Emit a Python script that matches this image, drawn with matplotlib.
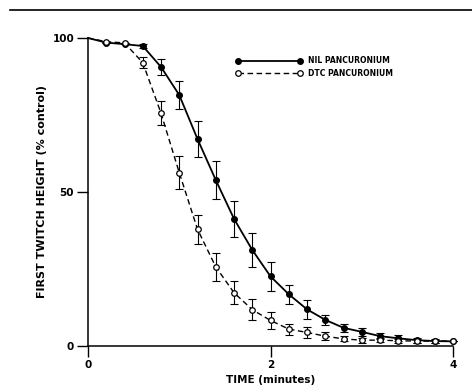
import numpy as np
import matplotlib
matplotlib.use("Agg")
import matplotlib.pyplot as plt
from matplotlib.lines import Line2D

plt.rcParams['font.family'] = ['Liberation Sans Narrow', 'DejaVu Sans']

# time (minutes) and first twitch height (% control)
time = [0.0, 0.2, 0.4, 0.6, 0.8, 1.0, 1.2, 1.4, 1.6, 1.8, 2.0,
        2.2, 2.4, 2.6, 2.8, 3.0, 3.2, 3.4, 3.6, 3.8, 4.0]
nil = [100, 98.5, 98.0, 97.4, 90.6, 81.5, 67.2, 53.9, 41.3, 31.2, 22.6,
       16.8, 11.9, 8.5, 5.9, 4.6, 3.2, 2.5, 1.9, 1.6, 1.5]
nil_err = [0, 0, 0, 0.5, 2.7, 4.6, 5.7, 6.2, 5.8, 5.4, 4.6,
           3.1, 3.1, 1.6, 1.3, 1.2, 1.0, 1.0, 0.8, 0.6, 0]
dtc = [100, 98.8, 98.4, 92.0, 75.6, 56.3, 37.9, 25.7, 17.3, 11.8, 8.3,
       5.5, 4.4, 3.2, 2.3, 1.9, 1.9, 1.7, 1.6, 1.6, 1.6]
dtc_err = [0, 0, 0, 1.9, 3.8, 5.4, 4.7, 4.5, 3.8, 3.3, 2.8,
           1.8, 1.7, 1.2, 0.8, 0.8, 0.7, 0.6, 0.6, 0.5, 0]

fig = plt.figure(figsize=(4.72, 3.92), dpi=100)
ax = fig.add_axes([88/472, 1-346/392, 365/472, 308/392])

t = np.array(time)
ax.errorbar(t[1:], nil[1:], yerr=nil_err[1:], fmt='none', ecolor='black',
            elinewidth=0.8, capsize=3, capthick=0.8, clip_on=False)
ax.errorbar(t[1:], dtc[1:], yerr=dtc_err[1:], fmt='none', ecolor='black',
            elinewidth=0.8, capsize=3, capthick=0.8, clip_on=False)
ax.plot(time, nil, '-', color='black', lw=1.3, marker='o', ms=4,
        mfc='black', mec='black', markevery=slice(1, None), clip_on=False,
        zorder=4)
ax.plot(time, dtc, '--', color='black', lw=1.0, dashes=(4, 2.5), marker='o',
        ms=4, mfc='white', mec='black', mew=0.9, markevery=slice(1, None),
        clip_on=False, zorder=5)

ax.set_xlim(0, 4)
ax.set_ylim(0, 100)
ax.set_xticks([0, 2, 4])
ax.set_yticks([0, 50, 100])
for s in ['top', 'right']:
    ax.spines[s].set_visible(False)
for s in ['left', 'bottom']:
    ax.spines[s].set_linewidth(1.1)
ax.tick_params(direction='out', length=8, width=1.0, labelsize=7.5, pad=2)
for lab in ax.get_xticklabels() + ax.get_yticklabels():
    lab.set_fontweight('bold')

ax.set_xlabel('TIME (minutes)', fontsize=7.5, fontweight='bold', labelpad=4)
ax.set_ylabel('FIRST TWITCH HEIGHT (% control)', fontsize=8,
              fontweight='bold', labelpad=4)

h1 = Line2D([], [], color='black', lw=1.3, marker='o', ms=4, mfc='black')
h2 = Line2D([], [], color='black', lw=1.0, ls='--', dashes=(4, 2.5),
            marker='o', ms=4, mfc='white', mew=0.9)
ax.legend([h1, h2], ['NIL PANCURONIUM', 'DTC PANCURONIUM'], numpoints=2,
          frameon=False, handlelength=8.8, handletextpad=0.7,
          labelspacing=0.45, loc='upper left', bbox_to_anchor=(0.395, 0.95),
          borderaxespad=0, prop={'size': 5.5, 'weight': 'bold'})

# scan border at the top of the page
fig.add_artist(Line2D([10/472, 1.0], [1-10/392, 1-10/392], color='black',
                      lw=1.2, transform=fig.transFigure))

fig.savefig('out.png', dpi=100)
